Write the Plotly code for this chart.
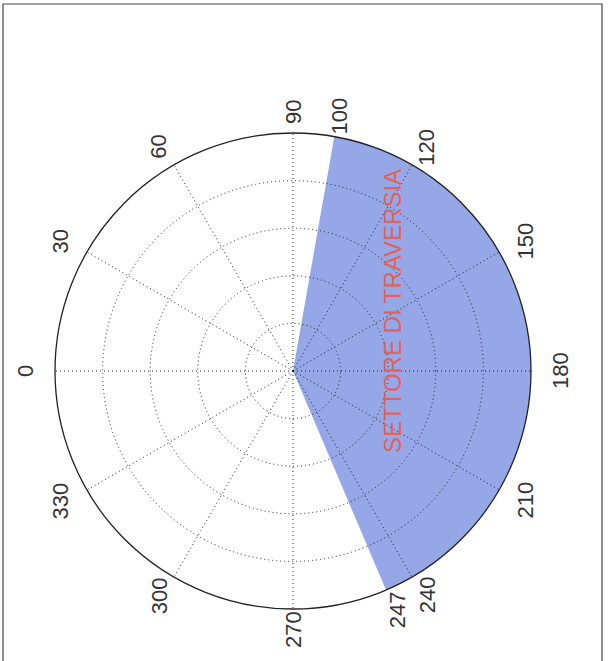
import math
import plotly.graph_objects as go

# ---- data ----
tick_angles = [0, 30, 60, 90, 100, 120, 150, 180, 210, 240, 247, 270, 300, 330]
tick_labels = ["0", "30", "60", "90", "100", "120", "150", "180", "210", "240", "247", "270", "300", "330"]
grid_angles = [0, 30, 60, 90, 120, 150, 180, 210, 240, 270, 300, 330]
sector_start = 100
sector_end = 247
radius_max = 5
ring_step = 1
sector_text = "SETTORE DI TRAVERSIA"

# ---- layout constants (pixels) ----
W, H = 608, 661
CX, CY, R = 293, 371, 238          # circle centre and radius
LAB_RX, LAB_RY = 268, 259          # label ring (about 1.1 R)
FONT = "Liberation Sans, Arial, Helvetica, sans-serif"

fig = go.Figure()

# shaded sector (bottom subplot)
fig.add_trace(go.Barpolar(
    r=[radius_max],
    theta=[(sector_start + sector_end) / 2],
    width=[sector_end - sector_start],
    marker=dict(color="#95a7e6", line=dict(width=0)),
    subplot="polar", hoverinfo="skip", showlegend=False,
))

# invisible trace that anchors the grid subplot drawn on top
fig.add_trace(go.Scatterpolar(
    r=[0], theta=[0], mode="markers",
    marker=dict(size=0.1, color="rgba(0,0,0,0)"),
    subplot="polar2", hoverinfo="skip", showlegend=False,
))

dom_x = [(CX - R) / W, (CX + R) / W]
dom_y = [1 - (CY + R) / H, 1 - (CY - R) / H]

ang_common = dict(rotation=180, direction="clockwise", ticks="", showticklabels=False)

fig.update_layout(
    width=W, height=H,
    margin=dict(l=0, r=0, t=0, b=0),
    paper_bgcolor="white",
    showlegend=False,
    polar=dict(
        domain=dict(x=dom_x, y=dom_y),
        bgcolor="white",
        angularaxis=dict(**ang_common, showline=False, showgrid=False),
        radialaxis=dict(range=[0, radius_max], visible=False),
    ),
    polar2=dict(
        domain=dict(x=dom_x, y=dom_y),
        bgcolor="rgba(0,0,0,0)",
        angularaxis=dict(
            **ang_common,
            tickmode="array", tickvals=grid_angles,
            showline=True, linecolor="#222", linewidth=1.3,
            showgrid=True, gridcolor="#222", griddash="1px,3px", gridwidth=1.4,
        ),
        radialaxis=dict(
            range=[0, radius_max], dtick=ring_step, tick0=0,
            showticklabels=False, ticks="", showline=False,
            showgrid=True, gridcolor="#222", griddash="1px,3px", gridwidth=1.4,
        ),
    ),
)

annotations = []
for ang, lab in zip(tick_angles, tick_labels):
    a = math.radians(ang)
    px = CX - LAB_RX * math.cos(a)
    py = CY - LAB_RY * math.sin(a)
    annotations.append(dict(
        text=lab, xref="paper", yref="paper",
        x=px / W, y=1 - py / H, xanchor="center", yanchor="middle",
        textangle=-90, showarrow=False,
        font=dict(family=FONT, size=22, color="#333"),
    ))

annotations.append(dict(
    text=sector_text, xref="paper", yref="paper",
    x=393 / W, y=1 - 311 / H, xanchor="center", yanchor="middle",
    textangle=-90, showarrow=False,
    font=dict(family=FONT, size=24, color="#e2625c"),
))
fig.update_layout(annotations=annotations)

fig.update_layout(shapes=[dict(
    type="rect", xref="paper", yref="paper",
    x0=3 / W, x1=602 / W, y0=-0.02, y1=1 - 4 / H,
    line=dict(color="#444", width=1.2), fillcolor="rgba(0,0,0,0)",
    layer="below",
)])

fig.write_html(
    "out.html",
    config={"displayModeBar": False},
    post_script="document.body.style.margin='0';document.body.style.overflow='hidden';",
)
